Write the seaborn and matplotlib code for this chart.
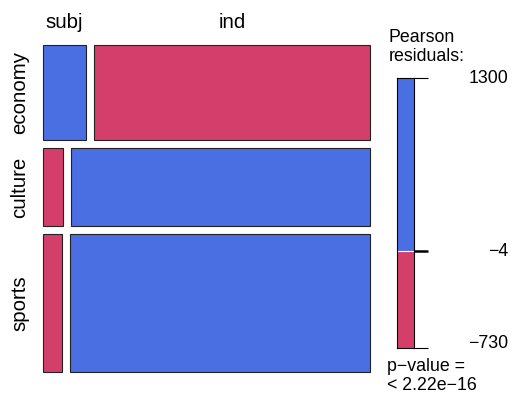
import numpy as np
import seaborn as sns
import matplotlib.pyplot as plt
import matplotlib.transforms as mtransforms

# data: counts (millions) per topic x style
topics = ["economy", "culture", "sports"]
styles = ["subj", "ind"]
subj_counts = [7.2, 2.77, 4.66]
ind_counts = [46.2, 41.2, 73.0]

legend_ticks = [1300, -4, -730]
legend_labels = ["1300", "\u22124", "\u2212730"]
p_value_text = "< 2.22e\u221216"

BLUE = "#4A6FE3"
RED = "#D33F6A"

sns.set_style("white")
plt.rcParams['font.family'] = ['Liberation Sans', 'DejaVu Sans']
plt.rcParams['text.color'] = 'black'
FS = 12.8        # legend text
FS_LAB = 14.7    # variable level labels

W, H = 513, 394
fig = plt.figure(figsize=(W / 100, H / 100), dpi=100)


def fx(px):
    return px / W


def fy(py):
    return 1 - py / H


# pearson residuals from the counts
counts = np.array([subj_counts, ind_counts]).T * 1e6
n = counts.sum()
expected = np.outer(counts.sum(axis=1), counts.sum(axis=0)) / n
resid = (counts - expected) / np.sqrt(expected)

# mosaic panel, axes in pixel units
x0, y0, size = 43, 45, 327
gap = 8
ax = fig.add_axes([fx(x0), fy(y0 + size), fx(size), size / H])
ax.set_xlim(0, size)
ax.set_ylim(size, 0)
ax.axis("off")

row_share = counts.sum(axis=1) / n
row_h = row_share * (size - gap * (len(topics) - 1))
top = 0
for i, topic in enumerate(topics):
    col_share = counts[i] / counts[i].sum()
    col_w = col_share * (size - gap)
    left = 0
    for j, style in enumerate(styles):
        color = BLUE if resid[i, j] > -4 else RED
        ax.bar(left, row_h[i], width=col_w[j], bottom=top, align="edge",
               color=color, edgecolor="#222222", linewidth=0.8, clip_on=False)
        if i == 0:
            fig.text(fx(x0 + left + col_w[j] / 2), fy(28), style,
                     ha="center", va="baseline", fontsize=FS_LAB)
        left += col_w[j] + gap
    fig.text(fx(20), fy(y0 + top + row_h[i] / 2), topic, rotation=90,
             ha="center", va="center", fontsize=FS_LAB)
    top += row_h[i] + gap

# legend bar
lax = fig.add_axes([fx(397), fy(348), fx(17), 270 / H])
lo, hi = min(legend_ticks), max(legend_ticks)
mid = legend_ticks[1]
lax.bar(0, hi - mid, bottom=mid, width=1, align="edge", color=BLUE,
        edgecolor="none")
lax.bar(0, mid - lo, bottom=lo, width=1, align="edge", color=RED,
        edgecolor="none")
lax.axhline(mid, color="white", linewidth=0.8)
lax.set_xlim(0, 1)
lax.set_ylim(lo, hi)
lax.set_xticks([])
lax.set_yticks(legend_ticks)
lax.set_yticklabels([])
lax.tick_params(axis="y", left=False, right=True, length=10, width=0.8,
                color="black", direction="out")
# the middle tick is drawn heavier
lax.yaxis.get_major_ticks()[1].tick2line.set_markeredgewidth(1.8)
for s in lax.spines.values():
    s.set_visible(True)
    s.set_color("black")
    s.set_linewidth(0.8)

tr = mtransforms.blended_transform_factory(fig.transFigure, lax.transData)
for v, lab in zip(legend_ticks, legend_labels):
    va = "center"
    if v == lo:
        va = "baseline"
    lax.text(fx(508), v, lab, transform=tr, ha="right", va=va, fontsize=FS)

fig.text(fx(389), fy(42), "Pearson", ha="left", va="baseline", fontsize=FS)
fig.text(fx(389), fy(61), "residuals:", ha="left", va="baseline", fontsize=FS)
fig.text(fx(387), fy(371), "p\u2212value =", ha="left", va="baseline", fontsize=FS)
fig.text(fx(387), fy(390), p_value_text, ha="left", va="baseline", fontsize=FS)

fig.savefig("out.png", dpi=100)
